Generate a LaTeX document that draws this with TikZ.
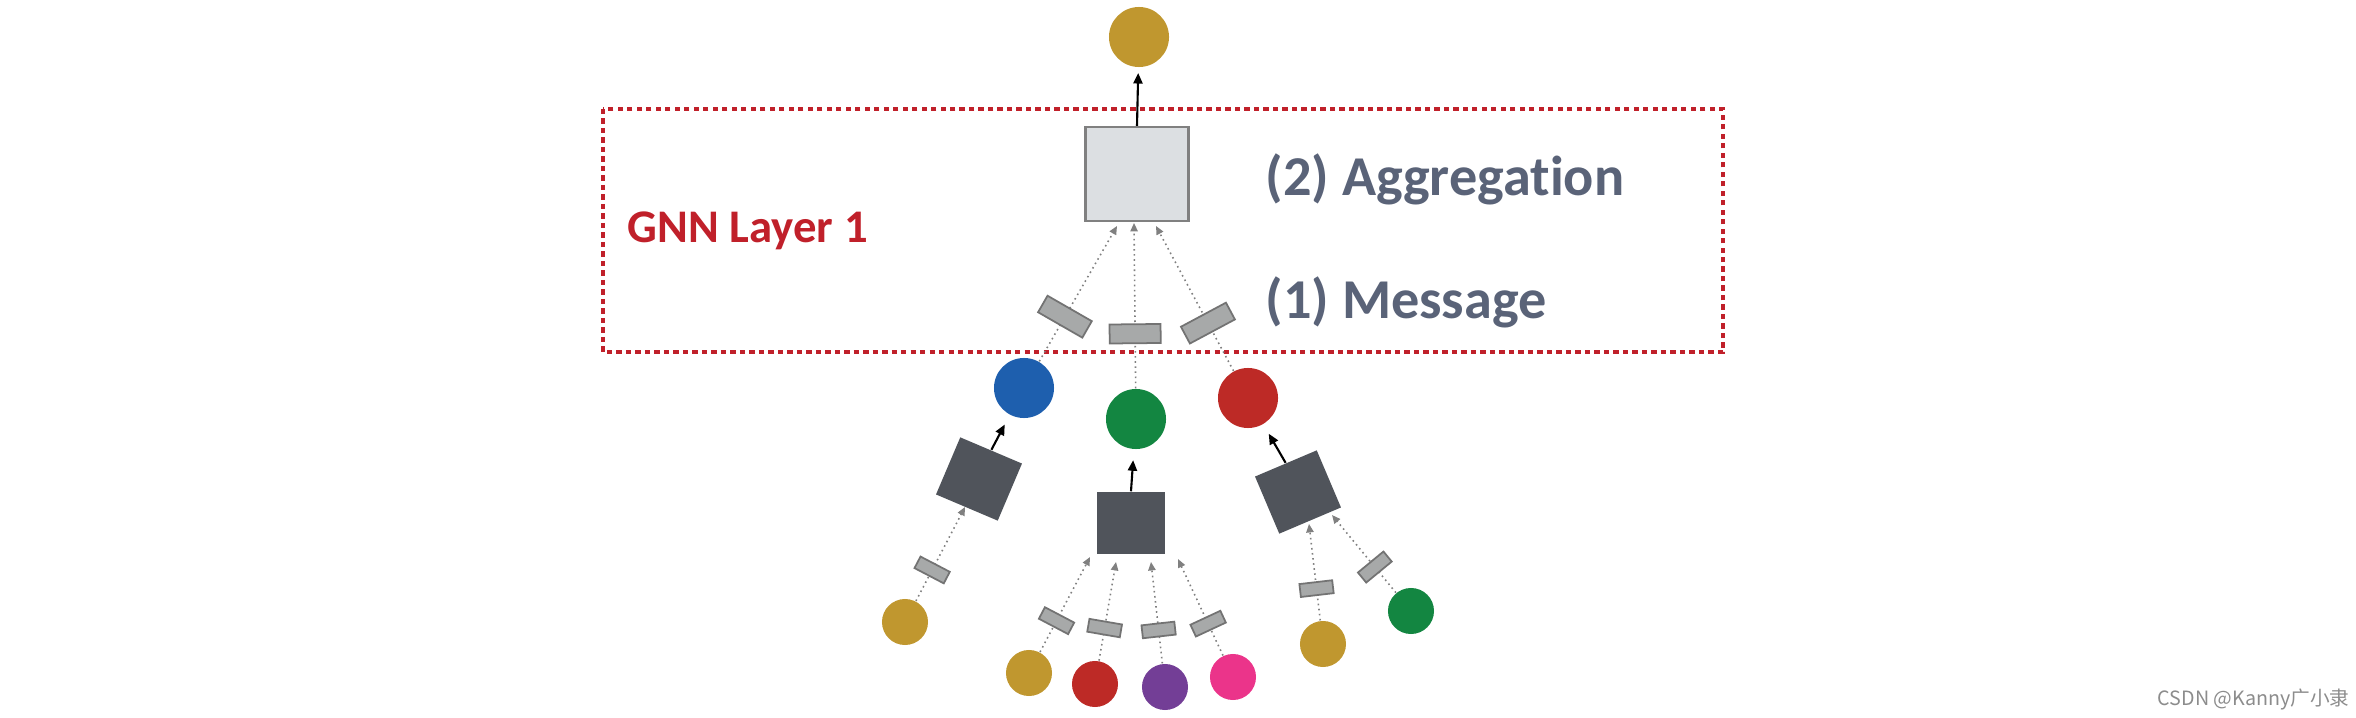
\documentclass[tikz,border=0pt]{standalone}
\usepackage{fontspec}
\setmainfont{Carlito}[Ligatures=NoCommon]
\newfontfamily\cjk{Noto Sans CJK SC}
\usetikzlibrary{arrows.meta}
\definecolor{gold}{HTML}{C0972F}
\definecolor{nblue}{HTML}{1E5FAE}
\definecolor{ngreen}{HTML}{138641}
\definecolor{nred}{HTML}{BD2A26}
\definecolor{npurple}{HTML}{733E96}
\definecolor{npink}{HTML}{EB348A}
\definecolor{aggfill}{HTML}{DCDFE2}
\definecolor{sqfill}{HTML}{50545B}
\definecolor{msgfill}{HTML}{A7A9A9}
\definecolor{layerred}{HTML}{C0202A}
\definecolor{labelgray}{HTML}{5A6378}
\tikzset{
  vert/.style={circle,minimum size=0.6cm,inner sep=0pt},
  leaf/.style={circle,minimum size=0.46cm,inner sep=0pt},
  aggbox/.style={draw=gray,line width=0.6pt,fill=aggfill,minimum width=1.03cm,minimum height=0.94cm,inner sep=0pt},
  sqbox/.style={fill=sqfill,minimum width=0.67cm,minimum height=0.62cm,inner sep=0pt},
  msgbox/.style={solid,draw=black!55,line width=0.5pt,fill=msgfill,minimum width=0.19cm,minimum height=0.51cm,inner sep=0pt,sloped,pos=0.33},
  smallmsg/.style={msgbox,minimum width=0.13cm,minimum height=0.33cm},
  msg/.style={draw=gray,line width=0.45pt,densely dotted,-{Triangle[length=2.4pt,width=2.1pt,fill=gray]}},
  upd/.style={line width=0.6pt,-{Triangle[length=3pt,width=2.6pt]},shorten >=1.5pt},
  layerbox/.style={draw=layerred,line width=1.35pt,dash pattern=on 1.5pt off 1.2pt},
  lbl/.style={anchor=base west,inner sep=0pt,font=\fontsize{16}{19}\selectfont\bfseries,text=labelgray}
}
\begin{document}
\begin{tikzpicture}[x=0.01cm,y=-0.01cm]
\useasboundingbox (0,0) rectangle (2356,718);
\draw[layerbox] (603,109) rectangle (1723,352);
\node[anchor=base west,inner sep=0pt,font=\fontsize{13.3}{16}\selectfont\bfseries,text=layerred] (layer) at (627,242) {GNN Layer 1};
\node[lbl] (aggrtext) at (1265,195) {(2) Aggregation};
\node[lbl] (msgtext) at (1265,318) {(1) Message};

\node[vert,fill=gold] (root) at (1139,37) {};
\node[aggbox] (aggr) at (1137,174) {};
\node[vert,fill=nblue] (b) at (1024,388) {};
\node[vert,fill=ngreen] (g) at (1136,419) {};
\node[vert,fill=nred] (r) at (1248,398) {};
\node[sqbox,rotate=-23] (sqb) at (979,479) {};
\node[sqbox] (sqg) at (1131,523) {};
\node[sqbox,rotate=23] (sqr) at (1298,492) {};

\node[leaf,fill=gold] (b1) at (905,622) {};
\node[leaf,fill=gold] (g1) at (1029,673) {};
\node[leaf,fill=nred] (g2) at (1095,684) {};
\node[leaf,fill=npurple] (g3) at (1165,687) {};
\node[leaf,fill=npink] (g4) at (1233,677) {};
\node[leaf,fill=gold] (r1) at (1323,644) {};
\node[leaf,fill=ngreen] (r2) at (1411,611) {};

\coordinate (ab) at (1117,226);
\coordinate (ag) at (1134,223);
\coordinate (ar) at (1156,226);
\coordinate (tb1) at (965,507);
\coordinate (tg1) at (1090,557);
\coordinate (tg2) at (1116,562);
\coordinate (tg3) at (1151,562);
\coordinate (tg4) at (1178,559);
\coordinate (tr1) at (1309,524);
\coordinate (tr2) at (1332,515);

\draw[upd] (aggr.north) -- (root);
\foreach \v/\t in {b/ab,g/ag,r/ar}
  \draw[msg] (\v) -- node[msgbox] {} (\t);
\foreach \s/\v in {sqb/b,sqg/g,sqr/r}
  \draw[upd,shorten >=3pt] (\s.north) -- (\v);
\foreach \v/\t in {b1/tb1,g1/tg1,g2/tg2,g3/tg3,g4/tg4,r1/tr1,r2/tr2}
  \draw[msg] (\v) -- node[smallmsg] {} (\t);

\node[anchor=west,inner sep=0pt,text=black!45,font=\cjk\fontsize{5.6}{7}\selectfont] (mark) at (2157,700) {CSDN @Kanny广小隶};
\end{tikzpicture}
\end{document}
